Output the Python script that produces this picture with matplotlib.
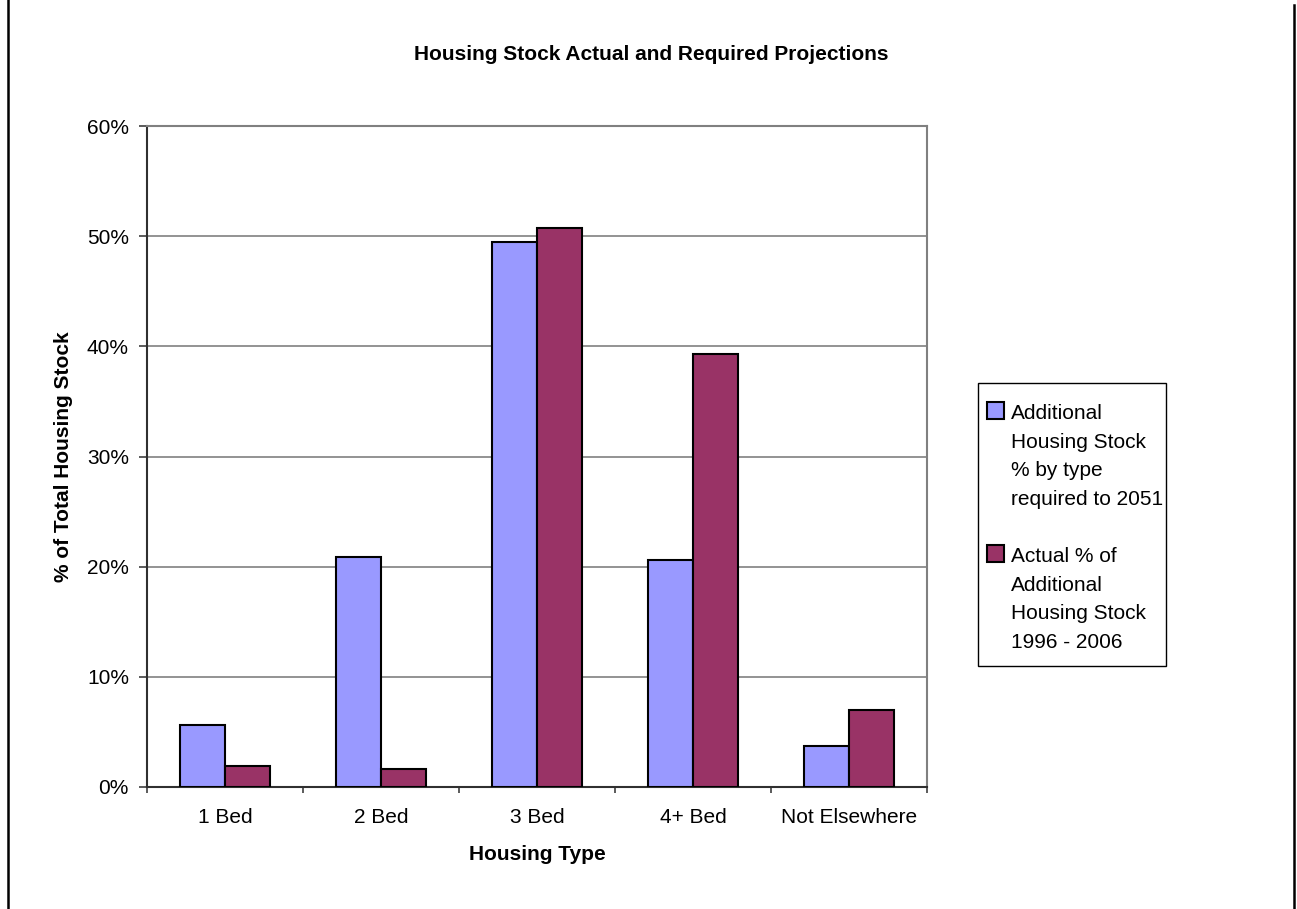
import matplotlib
matplotlib.use("Agg")
import matplotlib.pyplot as plt
import numpy as np
from matplotlib.lines import Line2D
from matplotlib.patches import Rectangle
from matplotlib.ticker import MultipleLocator, FuncFormatter

plt.rcParams['font.family'] = ['Liberation Sans', 'DejaVu Sans']

categories = ["1 Bed", "2 Bed", "3 Bed", "4+ Bed", "Not Elsewhere"]
required_2051 = [5.6, 20.9, 49.5, 20.6, 3.7]
actual_1996_2006 = [1.9, 1.6, 50.7, 39.3, 7.0]
series_labels = [
    ["Additional", "Housing Stock", "% by type", "required to 2051"],
    ["Actual % of", "Additional", "Housing Stock", "1996 - 2006"],
]
series_colors = ["#9999FF", "#993366"]

W, H, DPI = 1297, 909, 100
fig = plt.figure(figsize=(W / DPI, H / DPI), dpi=DPI)
fig.patch.set_facecolor("white")


def fx(px):
    return px / W


def fy(py):
    return 1 - py / H


# plot area: left 147, right 927, top 126, bottom 787 (pixels)
ax = fig.add_axes([fx(147), fy(787), fx(927 - 147), (787 - 126) / H])

x = np.arange(len(categories))
bw = 0.29
ax.bar(x - bw / 2, required_2051, bw, color=series_colors[0], edgecolor="black",
       linewidth=1.5, zorder=3)
ax.bar(x + bw / 2, actual_1996_2006, bw, color=series_colors[1], edgecolor="black",
       linewidth=1.5, zorder=3)

ax.set_xlim(-0.5, len(categories) - 0.5)
ax.set_ylim(0, 60)
ax.yaxis.set_major_locator(MultipleLocator(10))
ax.yaxis.set_major_formatter(FuncFormatter(lambda v, p: f"{v:.0f}%"))
ax.yaxis.grid(True, color="#808080", linewidth=1.2, zorder=0)

ax.set_xticks(x)
ax.set_xticklabels(categories)
ax.set_xticks(np.arange(-0.5, len(categories), 1.0), minor=True)
ax.tick_params(axis="x", which="major", length=0, pad=15, labelsize=15)
ax.tick_params(axis="x", which="minor", length=4, width=1.2, direction="out", color="#404040")
ax.tick_params(axis="y", length=6, width=1.2, direction="out", labelsize=15, pad=7, color="#404040")

for side in ("top", "right"):
    ax.spines[side].set_color("#808080")
    ax.spines[side].set_linewidth(1.5)
for side in ("left", "bottom"):
    ax.spines[side].set_color("#303030")
    ax.spines[side].set_linewidth(1.5)

ax.set_xlabel("Housing Type", fontsize=15, fontweight="bold", labelpad=13)
ax.set_ylabel("% of Total Housing Stock", fontsize=15, fontweight="bold", labelpad=10)

fig.text(fx(651), fy(55), "Housing Stock Actual and Required Projections",
         ha="center", va="center", fontsize=15, fontweight="bold")

# legend box with swatches aligned to the first line of each entry
fig.add_artist(Rectangle((fx(978), fy(666)), fx(1166 - 978), (666 - 383) / H,
                         transform=fig.transFigure, facecolor="white",
                         edgecolor="black", linewidth=1.0))
first_baselines = [419, 562]
line_step = 28.7
for lines, color, base in zip(series_labels, series_colors, first_baselines):
    fig.add_artist(Rectangle((fx(987), fy(base)), fx(17), 17 / H,
                             transform=fig.transFigure, facecolor=color,
                             edgecolor="black", linewidth=1.5))
    for i, line in enumerate(lines):
        fig.text(fx(1011), fy(base + i * line_step), line, ha="left",
                 va="baseline", fontsize=15)

# outer frame lines at the left and right edges
fig.add_artist(Line2D([fx(8), fx(8)], [0, 1], color="black", linewidth=1.8,
                      transform=fig.transFigure))
fig.add_artist(Line2D([fx(1294), fx(1294)], [0, fy(5)], color="black",
                      linewidth=1.8, transform=fig.transFigure))

fig.savefig("out.png", dpi=DPI, facecolor="white")
